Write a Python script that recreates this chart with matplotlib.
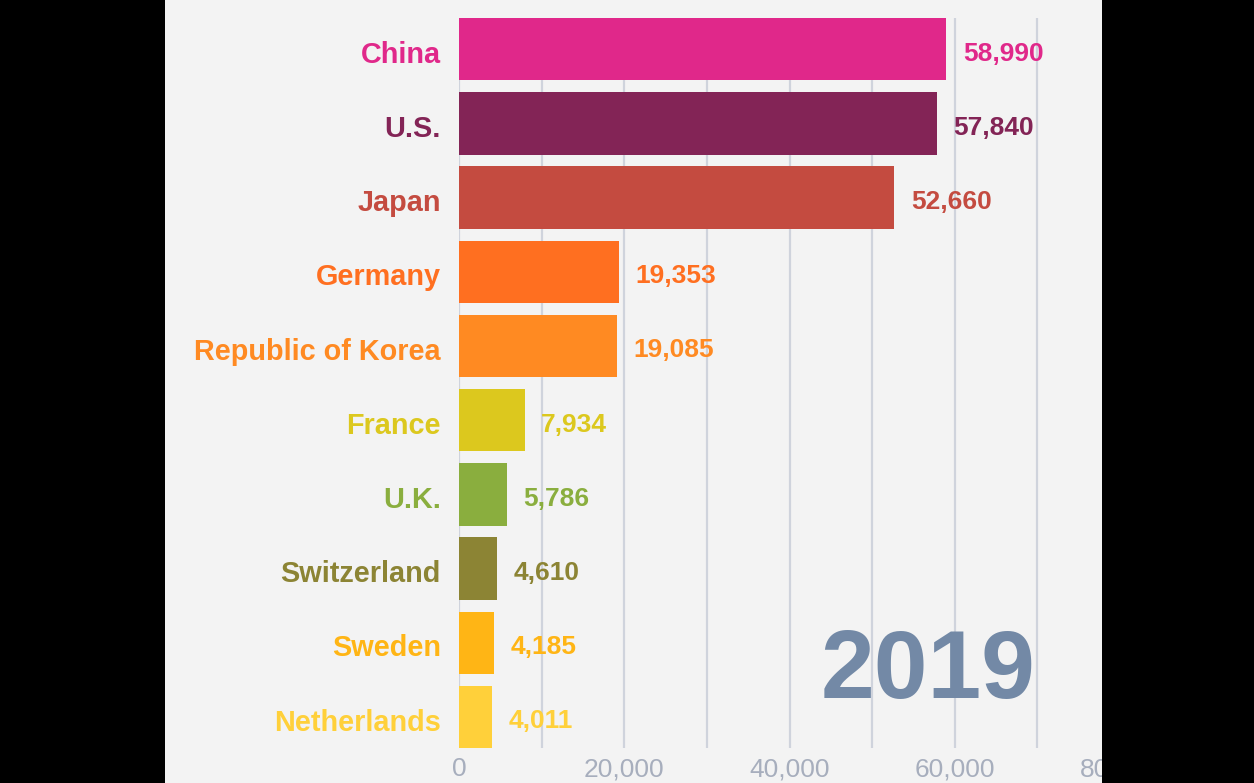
import matplotlib
matplotlib.use("Agg")
import matplotlib.pyplot as plt
from matplotlib.ticker import FuncFormatter

countries = ["China", "U.S.", "Japan", "Germany", "Republic of Korea",
             "France", "U.K.", "Switzerland", "Sweden", "Netherlands"]
values = [58990, 57840, 52660, 19353, 19085, 7934, 5786, 4610, 4185, 4011]
colors = ["#e0288a", "#832456", "#c44b40", "#ff6f20", "#ff8a22",
          "#dcc81e", "#8aae3e", "#8c8434", "#ffb515", "#ffd03a"]
year = "2019"
tick_values = [0, 20000, 40000, 60000, 80000]

plt.rcParams['font.family'] = ['Liberation Sans', 'DejaVu Sans']
W, H = 1254, 783
fig = plt.figure(figsize=(W / 100, H / 100), dpi=100, facecolor="black")


def plain_axes(rect, color, z):
    a = fig.add_axes(rect, zorder=z)
    a.set_facecolor(color)
    a.set_xticks([])
    a.set_yticks([])
    for s in a.spines.values():
        s.set_visible(False)
    return a


# light panel
plain_axes([165 / W, 0, (1102 - 165) / W, 1], "#f3f3f3", -5)

x0, x1 = 459, 1120
y_top, y_bot = 18.0, 748.2
ax = fig.add_axes([x0 / W, (H - y_bot) / H, (x1 - x0) / W, (y_bot - y_top) / H], zorder=1)
ax.set_facecolor("none")
ax.set_xlim(0, 80000)
n = len(countries)
ax.set_ylim(n - 1 + 0.42, -0.42)

ypos = list(range(n))
ax.barh(ypos, values, height=0.84, color=colors, zorder=2)

ax.set_xticks(tick_values)
ax.set_xticks([v for v in range(10000, 80000, 20000)], minor=True)
ax.grid(axis="x", which="both", color="#cfd3dc", linewidth=1.6, zorder=1)
ax.set_axisbelow(True)
ax.xaxis.set_major_formatter(FuncFormatter(lambda v, p: f"{int(v):,}"))
ax.tick_params(axis="x", which="both", length=0, pad=6.5, labelsize=19, labelcolor="#a7aebd")
ax.set_yticks([])
for s in ax.spines.values():
    s.set_visible(False)

for y, v, c, name in zip(ypos, values, colors, countries):
    ax.annotate(f"{v:,}", xy=(v, y), xycoords="data",
                xytext=(12, -8.2), textcoords="offset points", va="baseline", ha="left",
                fontsize=19, fontweight="bold", color=c, zorder=3)
    ax.annotate(name, xy=(0, y), xycoords=("axes fraction", "data"),
                xytext=(-13, -9.8), textcoords="offset points", va="baseline", ha="right",
                fontsize=20.8, fontweight="bold", color=c)

fig.text(1036 / W, (H - 698) / H, year, ha="right", va="baseline",
         fontsize=69.5, fontweight="bold", color="#7389a6", zorder=4)

# right black border on top
plain_axes([1102 / W, 0, (W - 1102) / W, 1], "black", 10)

fig.savefig("out.png", dpi=100, facecolor="black")
